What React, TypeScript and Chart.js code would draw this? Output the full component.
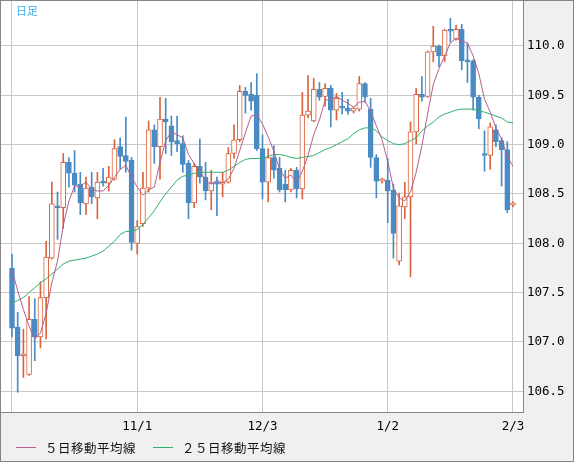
import { useEffect, useRef } from 'react';
import { Chart, registerables } from 'chart.js';

Chart.register(...registerables);

// Daily candles, 2019/10/2 .. 2020/2/3 (index 0..88)
const opens = [
  107.75, 107.15, 106.86, 106.67, 107.23, 107.05, 107.45, 107.85, 108.38, 108.36,
  108.82, 108.71, 108.60, 108.40, 108.57, 108.46, 108.63, 108.61, 108.65, 108.98,
  108.89, 108.84, 108.00, 108.20, 108.56, 109.15, 108.98, 109.26, 109.19, 109.04,
  109.01, 108.81, 108.41, 108.78, 108.67, 108.53, 108.62, 108.60, 108.62, 108.91,
  109.05, 109.54, 109.51, 109.50, 108.96, 108.62, 108.87, 108.76, 108.60, 108.54,
  108.74, 108.55, 109.30, 109.24, 109.56, 109.49, 109.57, 109.35, 109.39, 109.37,
  109.34, 109.36, 109.62, 109.36, 108.87, 108.63, 108.64, 108.54, 107.82, 108.37,
  108.47, 109.13, 109.51, 109.49, 109.94, 110.00, 109.90, 110.16, 110.07, 110.17,
  109.86, 109.85, 109.48, 108.91, 108.89, 109.15, 109.04, 108.95, 108.39,
];
const highs = [
  107.89, 107.30, 107.13, 107.46, 107.44, 107.61, 108.02, 108.62, 108.52, 108.91,
  108.87, 108.94, 108.72, 108.67, 108.72, 108.72, 108.76, 108.78, 109.05, 109.07,
  109.28, 108.87, 108.23, 108.72, 109.24, 109.20, 109.48, 109.47, 109.29, 109.29,
  109.09, 108.84, 108.81, 109.06, 108.82, 108.74, 108.67, 108.72, 108.97, 109.20,
  109.60, 109.58, 109.63, 109.72, 109.10, 108.96, 108.99, 108.87, 108.74, 108.76,
  108.77, 109.53, 109.70, 109.67, 109.63, 109.62, 109.60, 109.52, 109.53, 109.46,
  109.38, 109.69, 109.63, 109.47, 108.90, 108.66, 108.86, 108.60, 108.51, 108.62,
  109.23, 109.57, 109.69, 109.95, 110.20, 110.01, 110.17, 110.28, 110.21, 110.22,
  110.03, 109.86, 109.50, 109.14, 109.22, 109.20, 109.07, 109.03, 108.42,
];
const lows = [
  107.05, 106.49, 106.64, 106.66, 106.81, 106.94, 107.03, 107.84, 108.04, 108.15,
  108.57, 108.52, 108.29, 108.29, 108.40, 108.25, 108.58, 108.53, 108.64, 108.75,
  108.72, 107.93, 107.89, 108.17, 108.52, 108.81, 108.65, 108.91, 108.89, 108.93,
  108.72, 108.25, 108.36, 108.61, 108.44, 108.34, 108.28, 108.47, 108.61, 108.86,
  109.03, 109.32, 109.35, 108.94, 108.45, 108.42, 108.66, 108.52, 108.42, 108.52,
  108.46, 108.45, 109.27, 109.23, 109.45, 109.39, 109.18, 109.25, 109.31, 109.31,
  109.32, 109.34, 109.43, 108.77, 108.46, 108.61, 108.21, 107.85, 107.78, 108.25,
  107.66, 109.01, 109.44, 109.48, 109.84, 109.79, 109.84, 110.04, 110.06, 109.76,
  109.63, 109.35, 109.16, 108.73, 108.75, 108.98, 108.58, 108.31, 108.37,
];
const closes = [
  107.14, 106.86, 106.88, 107.23, 107.05, 107.45, 107.86, 108.40, 108.36, 108.82,
  108.71, 108.59, 108.41, 108.56, 108.47, 108.62, 108.61, 108.67, 108.96, 108.88,
  108.83, 108.01, 108.17, 108.56, 109.15, 108.98, 109.26, 109.23, 109.03, 109.01,
  108.80, 108.41, 108.78, 108.67, 108.53, 108.61, 108.60, 108.62, 108.91, 109.05,
  109.54, 109.50, 109.44, 108.96, 108.62, 108.87, 108.74, 108.54, 108.54, 108.74,
  108.55, 109.30, 109.34, 109.56, 109.48, 109.57, 109.35, 109.47, 109.37, 109.34,
  109.37, 109.62, 109.48, 108.87, 108.63, 108.65, 108.53, 108.10, 108.38, 108.47,
  109.13, 109.51, 109.48, 109.94, 110.00, 109.90, 110.16, 110.15, 110.17, 109.85,
  109.84, 109.48, 109.26, 108.89, 109.18, 109.03, 108.95, 108.34, 108.40,
];
const ma5 = [
  107.73, 107.52, 107.33, 107.16, 107.03, 107.09, 107.29, 107.60, 107.82, 108.18,
  108.43, 108.58, 108.58, 108.62, 108.55, 108.53, 108.53, 108.59, 108.67, 108.75,
  108.79, 108.67, 108.57, 108.49, 108.54, 108.57, 108.82, 109.04, 109.13, 109.10,
  109.07, 108.90, 108.81, 108.73, 108.64, 108.60, 108.64, 108.61, 108.65, 108.76,
  108.94, 109.12, 109.29, 109.30, 109.21, 109.08, 108.93, 108.75, 108.66, 108.69,
  108.62, 108.73, 108.89, 109.10, 109.25, 109.45, 109.46, 109.49, 109.45, 109.42,
  109.38, 109.43, 109.44, 109.34, 109.19, 109.05, 108.83, 108.56, 108.46, 108.43,
  108.52, 108.72, 108.99, 109.31, 109.61, 109.77, 109.90, 110.03, 110.08, 110.05,
  110.03, 109.90, 109.72, 109.46, 109.33, 109.17, 109.06, 108.88, 108.78,
];
const ma25 = [
  107.40, 107.42, 107.45, 107.50, 107.55, 107.60, 107.64, 107.69, 107.74, 107.79,
  107.82, 107.83, 107.84, 107.85, 107.87, 107.89, 107.92, 107.97, 108.02, 108.09,
  108.12, 108.12, 108.14, 108.19, 108.26, 108.33, 108.42, 108.50, 108.57, 108.64,
  108.68, 108.69, 108.71, 108.72, 108.72, 108.72, 108.72, 108.72, 108.74, 108.78,
  108.82, 108.85, 108.86, 108.86, 108.86, 108.88, 108.90, 108.90, 108.89, 108.87,
  108.86, 108.87, 108.88, 108.89, 108.92, 108.95, 108.97, 109.00, 109.03, 109.06,
  109.11, 109.15, 109.17, 109.17, 109.14, 109.08, 109.04, 109.01, 109.00, 109.01,
  109.04, 109.07, 109.14, 109.19, 109.23, 109.28, 109.31, 109.33, 109.35, 109.36,
  109.36, 109.36, 109.34, 109.33, 109.31, 109.29, 109.27, 109.23, 109.22,
];

const yTicks = [106.5, 107.0, 107.5, 108.0, 108.5, 109.0, 109.5, 110.0];
const xTickIndex = [0, 22, 44, 66, 88];
const xTickLabels = ['', '11/1', '12/3', '1/2', '2/3'];
const legendLabels = ['５日移動平均線', '２５日移動平均線'];
const titleText = '日足';

const UP = '#d9643e';
const DOWN = '#4a8bc4';
const MA5C = '#b3608e';
const MA25C = '#2fb06e';
const GRID = '#c8c8c8';
const FRAME = '#858585';

const framePlugin = {
  id: 'frame',
  beforeDraw(chart: any) {
    const { ctx, chartArea: a, width, height } = chart;
    ctx.save();
    ctx.fillStyle = '#f0f0f0';
    ctx.fillRect(0, 0, width, height);
    ctx.fillStyle = '#ffffff';
    ctx.fillRect(a.left, a.top, a.right - a.left, a.bottom - a.top);
    ctx.restore();
  },
  afterDraw(chart: any) {
    const { ctx, chartArea: a, width, height } = chart;
    ctx.save();
    ctx.strokeStyle = FRAME;
    ctx.lineWidth = 1;
    ctx.beginPath();
    ctx.moveTo(Math.round(a.right) + 0.5, 0);
    ctx.lineTo(Math.round(a.right) + 0.5, Math.round(a.bottom) + 1);
    ctx.moveTo(0, Math.round(a.bottom) + 0.5);
    ctx.lineTo(Math.round(a.right) + 1, Math.round(a.bottom) + 0.5);
    ctx.stroke();
    ctx.strokeRect(0.5, 0.5, width - 1, height - 1);

    // title
    ctx.fillStyle = '#3ab0e8';
    ctx.font = '11px "Noto Sans CJK JP"';
    ctx.textBaseline = 'middle';
    ctx.textAlign = 'left';
    ctx.fillText(titleText, 16, 10.5);

    // legend
    const ly = 448;
    const items = [
      { color: MA5C, x: 16, tx: 45, label: legendLabels[0] },
      { color: MA25C, x: 153, tx: 182, label: legendLabels[1] },
    ];
    ctx.font = '12.5px "Noto Sans CJK JP"';
    (ctx as any).letterSpacing = '0.5px';
    items.forEach((it) => {
      ctx.strokeStyle = it.color;
      ctx.beginPath();
      ctx.moveTo(it.x, ly - 0.5);
      ctx.lineTo(it.x + 20, ly - 0.5);
      ctx.stroke();
      ctx.fillStyle = '#111';
      ctx.fillText(it.label, it.tx, ly);
    });
    ctx.restore();
  },
};

const noPad = (s: any) => {
  s.paddingTop = 0;
  s.paddingBottom = 0;
  s.paddingLeft = 0;
  s.paddingRight = 0;
};

export default function App() {
  const ref = useRef<HTMLCanvasElement | null>(null);

  useEffect(() => {
    document.body.style.margin = '0';
    const canvas = ref.current;
    if (!canvas) return;
    const idx = closes.map((_, i) => i);
    const isUp = idx.map((i) => closes[i] >= opens[i]);
    const tickFont = { family: '"DejaVu Sans Mono", monospace', size: 12.5 };

    const chart = new Chart(canvas, {
      type: 'bar',
      data: {
        datasets: [
          {
            type: 'line',
            label: legendLabels[0],
            data: idx.map((i) => ({ x: i, y: ma5[i] })),
            borderColor: MA5C,
            borderWidth: 1,
            pointRadius: 0,
            tension: 0,
            fill: false,
            order: 0,
          } as any,
          {
            type: 'line',
            label: legendLabels[1],
            data: idx.map((i) => ({ x: i, y: ma25[i] })),
            borderColor: MA25C,
            borderWidth: 1,
            pointRadius: 0,
            tension: 0,
            fill: false,
            order: 0,
          } as any,
          {
            type: 'bar',
            label: 'body',
            data: idx.map((i) => ({ x: i, y: [opens[i], closes[i]] })),
            backgroundColor: isUp.map((u) => (u ? '#ffffff' : DOWN)),
            borderColor: isUp.map((u) => (u ? UP : DOWN)),
            borderWidth: 1,
            borderSkipped: false,
            barThickness: 5,
            minBarLength: 2,
            grouped: false,
            order: 1,
          } as any,
          {
            type: 'bar',
            label: 'wick',
            data: idx.map((i) => ({ x: i, y: [lows[i], highs[i]] })),
            backgroundColor: isUp.map((u) => (u ? UP : DOWN)),
            borderWidth: 0,
            barThickness: 1,
            grouped: false,
            order: 2,
          } as any,
        ],
      },
      options: {
        animation: false,
        responsive: false,
        maintainAspectRatio: false,
        layout: { padding: { left: 1, top: 1, right: 0, bottom: 25 } },
        plugins: { legend: { display: false }, tooltip: { enabled: false } },
        scales: {
          x: {
            type: 'linear',
            offset: false,
            min: -1.93,
            max: 89.76,
            grid: { offset: false, color: GRID, drawTicks: false },
            border: { display: false },
            afterBuildTicks: (s: any) => {
              s.ticks = xTickIndex.map((v) => ({ value: v }));
            },
            afterFit: (s: any) => {
              s.height = 25;
              noPad(s);
            },
            ticks: {
              autoSkip: false,
              maxRotation: 0,
              padding: 7,
              color: '#000',
              font: tickFont,
              callback: (v: any) => {
                const k = xTickIndex.indexOf(Number(v));
                return k >= 0 ? xTickLabels[k] : '';
              },
            },
          },
          y: {
            type: 'linear',
            position: 'right',
            min: 106.29,
            max: 110.456,
            grid: { color: GRID, drawTicks: false },
            border: { display: false },
            afterBuildTicks: (s: any) => {
              s.ticks = yTicks.map((v) => ({ value: v }));
            },
            afterFit: (s: any) => {
              s.width = 51;
              noPad(s);
            },
            ticks: {
              padding: 4,
              color: '#000',
              font: tickFont,
              callback: (v: any) => Number(v).toFixed(1),
            },
          },
        },
      } as any,
      plugins: [framePlugin],
    });

    return () => chart.destroy();
  }, []);

  return <canvas ref={ref} width={574} height={462} style={{ display: 'block' }} />;
}
